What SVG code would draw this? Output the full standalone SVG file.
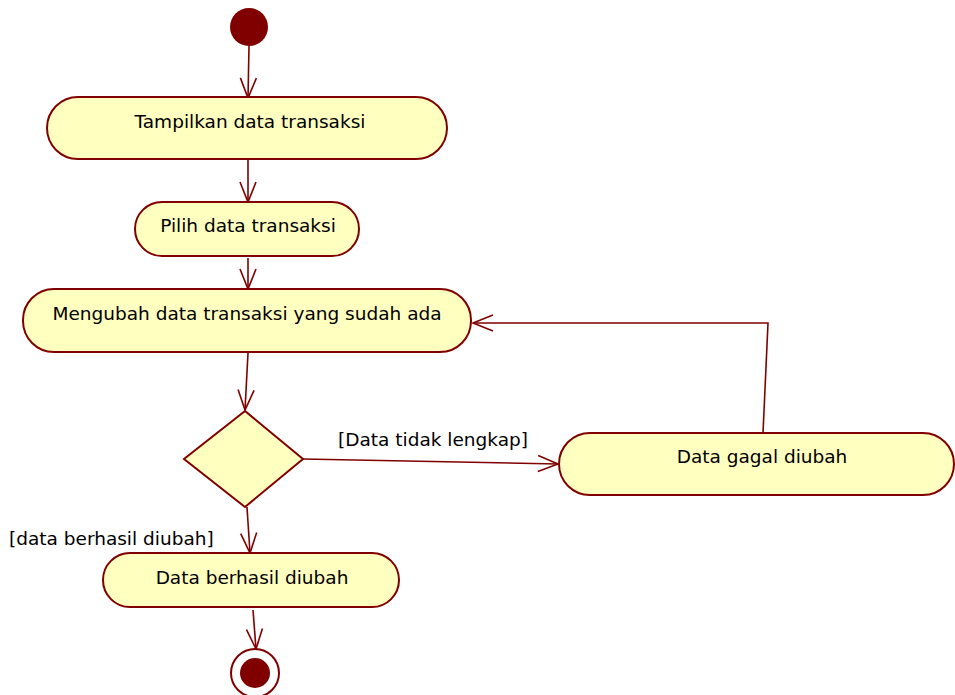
<svg xmlns="http://www.w3.org/2000/svg" width="955" height="695" viewBox="0 0 955 695">
<defs>
<marker id="arr" markerUnits="userSpaceOnUse" markerWidth="24" markerHeight="20" viewBox="-22 -10 24 20" refX="0" refY="0" orient="auto" overflow="visible">
<path d="M-20,-8 L0,0 L-20,8" fill="none" stroke="#800000" stroke-width="1.6"/>
</marker>
</defs>
<style>
.act{fill:#FFFFC0;stroke:#800000;stroke-width:2}
.t{font-family:"DejaVu Sans",Verdana,sans-serif;font-size:18.5px;fill:#000;text-anchor:middle}
.lbl{font-family:"DejaVu Sans",Verdana,sans-serif;font-size:18.5px;fill:#000}
.c{fill:none;stroke:#800000;stroke-width:1.6;marker-end:url(#arr)}
</style>
<rect width="955" height="695" fill="#fff"/>
<g id="connectors">
<path class="c" d="M249,46 L248,98"/>
<path class="c" d="M248,160 L248,202"/>
<path class="c" d="M248,258 L248,289"/>
<path class="c" d="M248,353 L245,410"/>
<path class="c" d="M303,459 L558,464"/>
<path class="c" d="M247,507 L250,553"/>
<path class="c" d="M763,433 L768,323 L473,323"/>
<path class="c" d="M253,610 L256,649"/>
<text class="lbl" x="338" y="446">[Data tidak lengkap]</text>
<text class="lbl" x="9" y="545">[data berhasil diubah]</text>
</g>
<g id="start"><circle cx="249" cy="27" r="19" fill="#800000"/></g>
<g id="tampilkan"><rect class="act" x="47" y="97" width="400" height="62" rx="31"/><text class="t" x="250" y="128">Tampilkan data transaksi</text></g>
<g id="pilih"><rect class="act" x="135" y="202" width="224" height="54" rx="27"/><text class="t" x="248" y="232">Pilih data transaksi</text></g>
<g id="mengubah"><rect class="act" x="23" y="289" width="448" height="63" rx="31"/><text class="t" x="247" y="320">Mengubah data transaksi yang sudah ada</text></g>
<g id="decision"><polygon class="act" points="245,411 303,459 245,507 184,459"/></g>
<g id="gagal"><rect class="act" x="559" y="433" width="395" height="62" rx="31"/><text class="t" x="762" y="463">Data gagal diubah</text></g>
<g id="berhasil"><rect class="act" x="103" y="553" width="296" height="54" rx="27"/><text class="t" x="252" y="584">Data berhasil diubah</text></g>
<g id="end"><circle cx="255" cy="673" r="24" fill="#fff" stroke="#800000" stroke-width="2"/><circle cx="255" cy="673" r="15" fill="#800000"/></g>
</svg>
